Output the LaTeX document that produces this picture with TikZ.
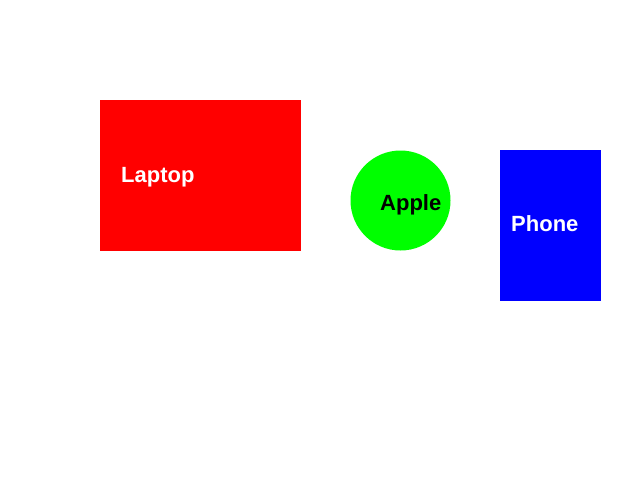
\documentclass[tikz,border=0pt]{standalone}
\usepackage{fontspec}
\setmainfont{Liberation Sans}
\begin{document}
\begin{tikzpicture}[x=1pt,y=-1pt,
  lbl/.style={anchor=base west,inner sep=0pt,font=\fontsize{22}{22}\selectfont\bfseries}]
\useasboundingbox (0,0) rectangle (640,480);
\fill[white] (0,0) rectangle (640,480);
\fill[red] (100,100) rectangle (301,251);
\fill[green] (400.5,200.5) circle[radius=50];
\fill[blue] (500,150) rectangle (601,301);
\node[lbl,text=white] (laptop) at (121,182) {Laptop};
\node[lbl,text=black] (apple) at (380,210) {Apple};
\node[lbl,text=white] (phone) at (511,231) {Phone};
\end{tikzpicture}
\end{document}
